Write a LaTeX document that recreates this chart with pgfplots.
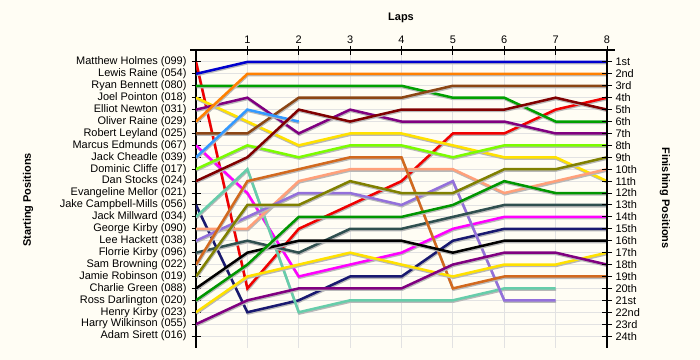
\documentclass[border=0pt]{standalone}
\usepackage{pgfplots}
\pgfplotsset{compat=1.18}
\usepackage{fontspec}
\setmainfont{Liberation Sans}
\definecolor{bg}{RGB}{255,253,244}
\definecolor{cRed}{RGB}{240,0,0}
\definecolor{cBlue}{RGB}{0,0,205}
\definecolor{cGreen}{RGB}{0,160,0}
\definecolor{cYellow}{RGB}{255,225,0}
\definecolor{cPurple}{RGB}{128,0,128}
\definecolor{cOrange}{RGB}{255,128,0}
\definecolor{cBrown}{RGB}{139,69,19}
\definecolor{cMagenta}{RGB}{255,0,255}
\definecolor{cDodger}{RGB}{51,153,255}
\definecolor{cChart}{RGB}{124,252,0}
\definecolor{cMaroon}{RGB}{128,0,0}
\definecolor{cNavy}{RGB}{25,25,112}
\definecolor{cTeal}{RGB}{102,205,170}
\definecolor{cSalmon}{RGB}{255,160,122}
\definecolor{cMedPurple}{RGB}{147,112,219}
\definecolor{cSlate}{RGB}{47,79,79}
\definecolor{cChoc}{RGB}{210,105,30}
\definecolor{cOlive}{RGB}{128,128,0}
\definecolor{cGreenB}{RGB}{0,150,0}
\definecolor{gridc}{RGB}{226,226,226}
\newcommand{\lbl}{\fontsize{11}{13}\selectfont}
\begin{document}
\begin{tikzpicture}
\useasboundingbox (0,0) rectangle (700bp,360bp);
\fill[bg] (0,0) rectangle (700bp,360bp);
\begin{axis}[
  at={(401.5bp,161bp)}, anchor=center,
  scale only axis, width=411bp, height=298bp,
  xmin=0, xmax=8, ymin=0, ymax=25, y dir=reverse,
  axis x line*=top, axis y line*=left,
  axis line style={line width=1.2bp, black},
  x axis line style={shorten <=-6bp, shorten >=-8bp},
  xtick={1,...,8}, ytick={1,...,24},
  yticklabels={Matthew Holmes (099),Lewis Raine (054),Ryan Bennett (080),Joel Pointon (018),Elliot Newton (031),Oliver Raine (029),Robert Leyland (025),Marcus Edmunds (067),Jack Cheadle (039),Dominic Cliffe (017),Dan Stocks (024),Evangeline Mellor (021),Jake Campbell-Mills (056),Jack Millward (034),George Kirby (090),Lee Hackett (038),Florrie Kirby (096),Sam Browning (022),Jamie Robinson (019),Charlie Green (088),Ross Darlington (020),Henry Kirby (023),Harry Wilkinson (055),Adam Sirett (016)},
  /pgf/number format/assume math mode=true,
  ticklabel style={font=\lbl},
  xticklabel style={yshift=-2bp},
  yticklabel style={xshift=-1.5bp},
  tick align=center, major tick length=9bp,
  tick style={line width=1bp, black},
  grid=major, major grid style={draw=gridc, line width=0.9bp},
  every axis plot/.append style={line width=2.5bp, mark=none,
    preaction={draw=black!28, line width=2.5bp, transform canvas={xshift=0.5bp,yshift=-1.3bp}}},
]
\addplot[cRed] coordinates {(0,1)(1,20)(2,15)(3,13)(4,11)(5,7)(6,7)(7,5)(8,4)};
\addplot[cBlue] coordinates {(0,2)(1,1)(2,1)(3,1)(4,1)(5,1)(6,1)(7,1)(8,1)};
\addplot[cGreen] coordinates {(0,3)(1,3)(2,3)(3,3)(4,3)(5,4)(6,4)(7,6)(8,6)};
\addplot[cYellow] coordinates {(0,4)(1,6)(2,8)(3,7)(4,7)(5,8)(6,9)(7,9)(8,11)};
\addplot[cPurple] coordinates {(0,5)(1,4)(2,7)(3,5)(4,6)(5,6)(6,6)(7,7)(8,7)};
\addplot[cOrange] coordinates {(0,6)(1,2)(2,2)(3,2)(4,2)(5,2)(6,2)(7,2)(8,2)};
\addplot[cBrown] coordinates {(0,7)(1,7)(2,4)(3,4)(4,4)(5,3)(6,3)(7,3)(8,3)};
\addplot[cMagenta] coordinates {(0,8)(1,12)(2,19)(3,18)(4,17)(5,15)(6,14)(7,14)(8,14)};
\addplot[cDodger] coordinates {(0,9)(1,5)(2,6)};
\addplot[cChart] coordinates {(0,10)(1,8)(2,9)(3,8)(4,8)(5,9)(6,8)(7,8)(8,8)};
\addplot[cMaroon] coordinates {(0,11)(1,9)(2,5)(3,6)(4,5)(5,5)(6,5)(7,4)(8,5)};
\addplot[cNavy] coordinates {(0,13)(1,22)(2,21)(3,19)(4,19)(5,16)(6,15)(7,15)(8,15)};
\addplot[cTeal] coordinates {(0,14)(1,10)(2,22)(3,21)(4,21)(5,21)(6,20)(7,20)};
\addplot[cSalmon] coordinates {(0,15)(1,15)(2,11)(3,10)(4,10)(5,10)(6,12)(7,11)(8,10)};
\addplot[cMedPurple] coordinates {(0,16)(1,14)(2,12)(3,12)(4,13)(5,11)(6,21)(7,21)};
\addplot[cSlate] coordinates {(0,17)(1,16)(2,17)(3,15)(4,15)(5,14)(6,13)(7,13)(8,13)};
\addplot[cChoc] coordinates {(0,18)(1,11)(2,10)(3,9)(4,9)(5,20)(6,19)(7,19)(8,19)};
\addplot[cOlive] coordinates {(0,19)(1,13)(2,13)(3,11)(4,12)(5,12)(6,10)(7,10)(8,9)};
\addplot[black] coordinates {(0,20)(1,17)(2,16)(3,16)(4,16)(5,17)(6,16)(7,16)(8,16)};
\addplot[cGreenB] coordinates {(0,21)(1,18)(2,14)(3,14)(4,14)(5,13)(6,11)(7,12)(8,12)};
\addplot[cYellow] coordinates {(0,22)(1,19)(2,18)(3,17)(4,18)(5,19)(6,18)(7,18)(8,17)};
\addplot[cPurple] coordinates {(0,23)(1,21)(2,20)(3,20)(4,20)(5,18)(6,17)(7,17)(8,18)};
\end{axis}
\begin{axis}[
  at={(401.5bp,161bp)}, anchor=center,
  scale only axis, width=411bp, height=298bp,
  xmin=0, xmax=8, ymin=0, ymax=25, y dir=reverse,
  axis x line=none, axis y line*=right,
  axis line style={line width=1.2bp, black},
  ytick={1,...,24},
  yticklabels={1st,2nd,3rd,4th,5th,6th,7th,8th,9th,10th,11th,12th,13th,14th,15th,16th,17th,18th,19th,20th,21st,22nd,23rd,24th},
  ticklabel style={font=\lbl},
  tick align=center, major tick length=10bp,
  tick style={line width=1bp, black},
]
\end{axis}
\node[font=\lbl\bfseries] at (401bp,342bp) {Laps};
\node[font=\lbl\bfseries, rotate=90] at (28bp,160bp) {Starting Positions};
\node[font=\lbl\bfseries, rotate=-90] at (665bp,162bp) {Finishing Positions};
\end{tikzpicture}
\end{document}
